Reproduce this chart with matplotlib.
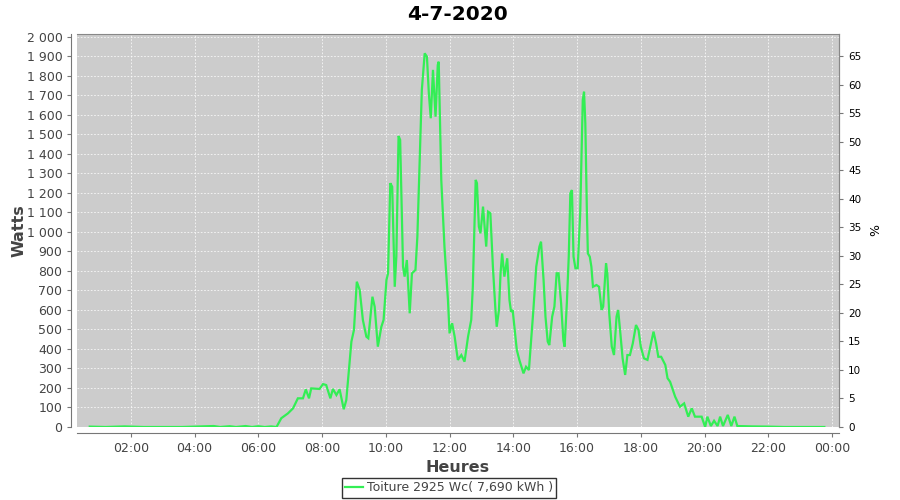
import matplotlib
matplotlib.use("Agg")
import matplotlib.pyplot as plt
from matplotlib.ticker import FuncFormatter, MultipleLocator

# production of the day, hours (decimal) and watts
hours = [
    0.71, 1.2, 1.8, 2.4, 3.0, 3.6, 4.2, 4.6, 4.8, 5.1, 5.3, 5.6, 5.8, 6.0, 6.2, 6.4, 6.57,
    6.72, 6.93, 7.09, 7.24, 7.40, 7.49, 7.59, 7.66, 7.92, 8.03, 8.13, 8.26, 8.34, 8.45,
    8.55, 8.68, 8.76, 8.87, 8.92, 9.00, 9.09, 9.18, 9.28, 9.39, 9.45, 9.58, 9.65, 9.75,
    9.86, 9.93, 10.02, 10.07, 10.14, 10.20, 10.28, 10.33, 10.40, 10.45, 10.54, 10.59,
    10.66, 10.75, 10.82, 10.93, 10.99, 11.06, 11.13, 11.22, 11.29, 11.35, 11.41, 11.48,
    11.56, 11.63, 11.66, 11.74, 11.84, 11.95, 12.00, 12.08, 12.16, 12.26, 12.37, 12.47,
    12.58, 12.68, 12.73, 12.82, 12.86, 12.92, 12.97, 13.05, 13.10, 13.15, 13.21, 13.28,
    13.36, 13.44, 13.48, 13.55, 13.60, 13.65, 13.72, 13.81, 13.88, 13.93, 13.98, 14.11,
    14.19, 14.32, 14.40, 14.49, 14.56, 14.63, 14.72, 14.82, 14.87, 14.95, 15.01, 15.08,
    15.13, 15.22, 15.29, 15.36, 15.42, 15.50, 15.57, 15.61, 15.68, 15.74, 15.79, 15.84,
    15.89, 15.95, 16.02, 16.10, 16.15, 16.18, 16.22, 16.26, 16.31, 16.34, 16.40, 16.45,
    16.50, 16.61, 16.69, 16.77, 16.82, 16.91, 16.95, 17.01, 17.09, 17.16, 17.24, 17.29,
    17.35, 17.43, 17.51, 17.58, 17.66, 17.75, 17.85, 17.93, 18.00, 18.10, 18.21, 18.32,
    18.40, 18.48, 18.55, 18.64, 18.77, 18.84, 18.92, 19.08, 19.23, 19.36, 19.49, 19.60,
    19.70, 19.91, 20.02, 20.09, 20.20, 20.30, 20.41, 20.49, 20.58, 20.73, 20.84, 20.94,
    21.03, 21.5, 22.0, 22.5, 23.0, 23.76,
]
watts = [
    2, 0, 3, 0, 0, 0, 3, 5, 0, 4, 0, 5, 0, 4, 0, 3, 0,
    45, 70, 96, 147, 147, 193, 147, 198, 195, 220, 215, 147, 195, 164,
    193, 91, 138, 344, 438, 497, 745, 703, 549, 463, 455, 668, 617, 412,
    514, 549, 754, 788, 1250, 1232, 719, 873, 1492, 1472, 822, 771,
    856, 583, 788, 805, 976, 1352, 1728, 1916, 1899, 1711, 1583, 1831,
    1591, 1856, 1873, 1267, 925, 651, 480, 532, 463, 344, 369, 335,
    463, 549, 719, 1267, 1250, 1027, 993, 1130, 1027, 925, 1104, 1096,
    822, 600, 514, 600, 788, 890, 771, 865, 651, 591, 600, 395,
    344, 275, 309, 292, 446, 600, 822, 925, 950, 754, 566, 438,
    420, 566, 617, 788, 788, 634, 446, 412, 634, 873, 1198, 1215,
    873, 814, 814, 1096, 1446, 1677, 1719, 1557, 1096, 890, 873, 822,
    719, 728, 719, 600, 617, 839, 788, 583, 412, 369, 566, 600,
    497, 352, 267, 369, 369, 429, 523, 497, 412, 352, 344, 429,
    489, 429, 360, 360, 318, 250, 232, 155, 104, 121, 53, 96,
    53, 53, 0, 53, 5, 32, 5, 53, 5, 62, 5, 53,
    5, 3, 2, 0, 0, 0,
]
peak_wc = 2925
series_label = "Toiture 2925 Wc( 7,690 kWh )"
title = "4-7-2020"
xtick_hours = [2, 4, 6, 8, 10, 12, 14, 16, 18, 20, 22, 24]

GREY = "#444444"
LINE = "#33ee55"

fig = plt.figure(figsize=(9, 5), dpi=100)
ax = fig.add_axes([77 / 900, 1 - 427 / 500, (839 - 77) / 900, (427 - 34) / 500])
ax.set_facecolor("#cccccc")

ax.plot(hours, watts, color=LINE, linewidth=1.6, label=series_label, solid_joinstyle="miter")

ax.set_xlim(0.31, 24.22)
ax.set_ylim(0, 2015)
ax.yaxis.set_major_locator(MultipleLocator(100))
ax.yaxis.set_major_formatter(FuncFormatter(lambda v, p: f"{int(v):,}".replace(",", " ")))
ax.set_xticks(xtick_hours)
ax.set_xticklabels([f"{h % 24:02d}:00" for h in xtick_hours])
ax.grid(True, color="white", linestyle=(0, (2, 2)), linewidth=0.6, alpha=0.85)

for s in ("top", "right"):
    ax.spines[s].set_color("#888888")
for s in ("left", "bottom"):
    ax.spines[s].set_position(("outward", 4))
    ax.spines[s].set_color("#777777")
ax.tick_params(axis="both", colors="#777777", labelcolor=GREY, labelsize=9, length=3)

ax.set_xlabel("Heures", fontsize=11.5, fontweight="bold", color=GREY, labelpad=4)
ax.set_ylabel("Watts", fontsize=11.5, fontweight="bold", color=GREY, labelpad=0)
ax.set_title(title, fontsize=14.5, fontweight="bold", pad=10)

# right axis in percent of installed peak power
ax2 = ax.twinx()
ax2.set_ylim(0, 2015 * 100 / peak_wc)
ax2.yaxis.set_major_locator(MultipleLocator(5))
ax2.spines["right"].set_color("#888888")
for s in ("top", "left", "bottom"):
    ax2.spines[s].set_visible(False)
ax2.tick_params(axis="y", colors="#777777", labelcolor="black", labelsize=7.5, length=3)
ax2.set_ylabel("%", fontsize=9, color="black", labelpad=6)

leg = fig.legend(loc="center", bbox_to_anchor=(449 / 900, 1 - 488 / 500), fontsize=9,
                 frameon=True, fancybox=False, borderpad=0.25, handlelength=1.5,
                 handletextpad=0.3, borderaxespad=0)
leg.get_frame().set_edgecolor("black")
leg.get_frame().set_linewidth(1.0)
for t in leg.get_texts():
    t.set_color(GREY)

fig.savefig("out.png", dpi=100)
